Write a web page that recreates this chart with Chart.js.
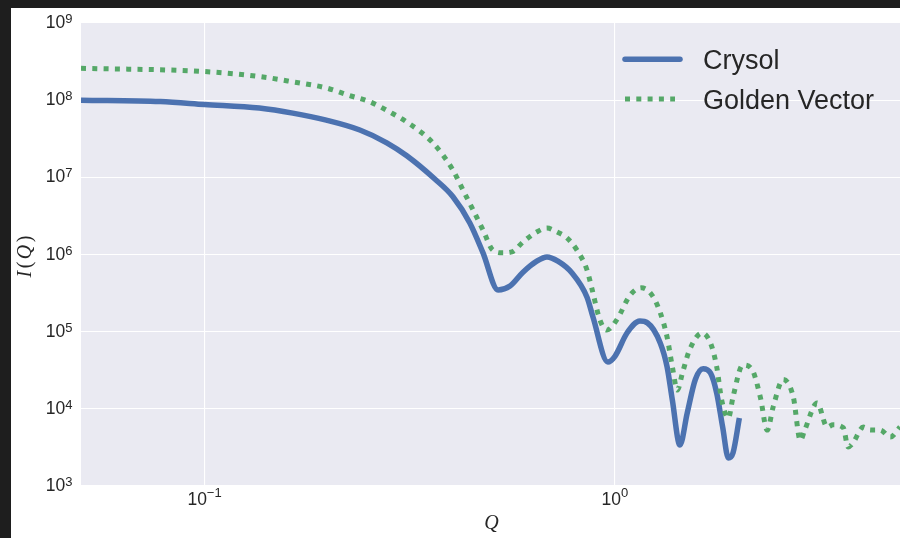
<!DOCTYPE html>
<html>
<head>
<meta charset="utf-8">
<script src="https://cdn.jsdelivr.net/npm/chart.js@4.4.1/dist/chart.umd.min.js"></script>
<style>
  html, body { margin: 0; padding: 0; width: 900px; height: 538px; overflow: hidden; background: #1e1e1e; }
  #frame { position: absolute; left: 11px; top: 8px; width: 889px; height: 530px; background: #ffffff; }
  canvas { display: block; }
</style>
</head>
<body>
<div id="frame"><canvas id="saxs" width="889" height="530"></canvas></div>
<script>
// Scattering profiles I(Q) from two calculators
const seriesNames = ['Crysol', 'Golden Vector'];

const crysolQ = [0.05, 0.078, 0.1, 0.136, 0.164, 0.198, 0.239, 0.278, 0.311, 0.364, 0.403, 0.443,
  0.477, 0.519, 0.555, 0.597, 0.645, 0.683, 0.726, 0.785, 0.855, 0.884, 0.961, 1.0, 1.07, 1.15,
  1.20, 1.29, 1.34, 1.38, 1.44, 1.50, 1.57, 1.64, 1.71, 1.77, 1.83, 1.89, 1.94, 2.01];
const crysolI = [1.0e8, 9.6e7, 8.8e7, 7.9e7, 6.8e7, 5.5e7, 4.1e7, 2.8e7, 1.9e7, 9.5e6, 5.6e6, 2.56e6,
  1.05e6, 3.47e5, 3.9e5, 5.9e5, 8.2e5, 9.3e5, 8.2e5, 5.8e5, 2.8e5, 1.55e5, 4.05e4, 4.8e4, 9.6e4, 1.37e5,
  1.3e5, 7.1e4, 3.5e4, 1.3e4, 3.4e3, 8.8e3, 2.4e4, 3.3e4, 2.9e4, 1.6e4, 5.8e3, 2.3e3, 2.7e3, 7.6e3];

const goldenQ = [0.05, 0.1, 0.1375, 0.164, 0.198, 0.223, 0.253, 0.283, 0.313, 0.36, 0.403, 0.426,
  0.451, 0.477, 0.504, 0.533, 0.561, 0.597, 0.645, 0.683, 0.722, 0.764, 0.808, 0.855, 0.880, 0.919,
  0.956, 1.01, 1.09, 1.16, 1.23, 1.29, 1.34, 1.38, 1.42, 1.46, 1.52, 1.63, 1.71, 1.77, 1.82, 1.89,
  1.94, 2.05, 2.16, 2.26, 2.35, 2.43, 2.57, 2.72, 2.83, 2.90, 3.11, 3.29, 3.40, 3.60, 3.70, 3.80,
  4.03, 4.19, 4.43, 4.69, 4.95];
const goldenI = [2.59e8, 2.35e8, 2.01e8, 1.73e8, 1.44e8, 1.17e8, 9.5e7, 7.0e7, 5.1e7, 2.8e7, 1.24e7, 6.9e6,
  3.8e6, 2.08e6, 1.14e6, 1.05e6, 1.08e6, 1.45e6, 1.96e6, 2.2e6, 1.96e6, 1.64e6, 1.14e6, 6.3e5, 3.5e5, 1.42e5,
  1.05e5, 1.42e5, 3.0e5, 3.7e5, 3.0e5, 1.75e5, 8.5e4, 3.5e4, 1.75e4, 2.9e4, 5.8e4, 9.6e4, 7.1e4, 3.5e4, 1.3e4, 7.6e3,
  1.43e4, 3.7e4, 3.2e4, 1.43e4, 5.3e3, 1.06e4, 2.4e4, 1.43e4, 3.9e3, 5.3e3, 1.19e4, 5.8e3, 6.2e3, 5.7e3, 3.2e3, 3.6e3,
  5.8e3, 5.3e3, 5.3e3, 4.3e3, 5.8e3];

// Axis ranges and decade ticks (exponents of ten)
const qRange = [0.05, 4.95];
const iRange = [1e3, 1e9];
const xTickExps = [-1, 0];
const yTickExps = [3, 4, 5, 6, 7, 8, 9];
const xTitle = 'Q';
const yTitleParts = [['I', true], ['(', false], ['Q', true], [')', false]];

const INK = '#262626';
const SANS = '"Liberation Sans", Arial, sans-serif';
const SERIF = '"Liberation Serif", "DejaVu Serif", serif';
const BLUE = '#4C72B0';
const GREEN = '#55A868';
const DOTS = [5, 6.3];

function supText(e) {
  return String(e).replace('-', '\u2212');
}

// "10" with a raised exponent; anchor is 'right' (y axis) or 'center' (x axis)
function drawPow(ctx, x, y, exp, anchor, baseDrop, supDrop) {
  const base = '10', sup = supText(exp);
  ctx.font = '17.5px ' + SANS;
  const bw = ctx.measureText(base).width;
  ctx.font = '13px ' + SANS;
  const sw = ctx.measureText(sup).width;
  const start = anchor === 'right' ? x - bw - sw : x - (bw + sw) / 2;
  ctx.textAlign = 'left';
  ctx.textBaseline = 'alphabetic';
  ctx.font = '17.5px ' + SANS;
  ctx.fillText(base, start, y + baseDrop);
  ctx.font = '13px ' + SANS;
  ctx.fillText(sup, start + bw, y + supDrop);
}

const decor = {
  id: 'decor',
  beforeDraw(chart) {
    const { ctx, chartArea: a } = chart;
    ctx.save();
    ctx.fillStyle = '#ffffff';
    ctx.fillRect(0, 0, chart.width, chart.height);
    ctx.fillStyle = '#EAEAF2';
    ctx.fillRect(a.left, a.top, a.right - a.left, a.bottom - a.top);
    ctx.restore();
  },
  afterDraw(chart) {
    const { ctx, chartArea: a } = chart;
    const xs = chart.scales.x, ys = chart.scales.y;
    ctx.save();
    ctx.fillStyle = INK;

    // tick labels
    yTickExps.forEach(e => drawPow(ctx, a.left - 8.5, ys.getPixelForValue(Math.pow(10, e)), e, 'right', 5, 0));
    xTickExps.forEach(e => drawPow(ctx, xs.getPixelForValue(Math.pow(10, e)), a.bottom, e, 'center', 19, 11));

    // axis titles
    ctx.font = 'italic 20px ' + SERIF;
    ctx.textAlign = 'center';
    ctx.textBaseline = 'alphabetic';
    ctx.fillText(xTitle, (a.left + a.right) / 2 + 1, a.bottom + 43);

    ctx.save();
    ctx.translate(19.5, (a.top + a.bottom) / 2 + 2);
    ctx.rotate(-Math.PI / 2);
    const gap = 2.5;
    const widths = yTitleParts.map(([t, it]) => {
      ctx.font = (it ? 'italic ' : '') + '20px ' + SERIF;
      return ctx.measureText(t).width;
    });
    const total = widths.reduce((s, w) => s + w, 0) + gap * (widths.length - 1);
    let px = -total / 2;
    ctx.textAlign = 'left';
    yTitleParts.forEach(([t, it], i) => {
      ctx.font = (it ? 'italic ' : '') + '20px ' + SERIF;
      ctx.fillText(t, px, 0);
      px += widths[i] + gap;
    });
    ctx.restore();

    // legend
    const lx0 = 614, lx1 = 669, tx = 692;
    ctx.lineWidth = 5.5;
    ctx.strokeStyle = BLUE;
    ctx.lineCap = 'round';
    ctx.beginPath(); ctx.moveTo(lx0, 51.3); ctx.lineTo(lx1, 51.3); ctx.stroke();
    ctx.lineWidth = 5;
    ctx.strokeStyle = GREEN;
    ctx.lineCap = 'butt';
    ctx.setLineDash(DOTS);
    ctx.beginPath(); ctx.moveTo(lx0, 91); ctx.lineTo(lx0 + 50, 91); ctx.stroke();
    ctx.setLineDash([]);
    ctx.font = '27px ' + SANS;
    ctx.textAlign = 'left';
    ctx.textBaseline = 'alphabetic';
    ctx.fillStyle = INK;
    ctx.fillText(seriesNames[0], tx, 61);
    ctx.fillText(seriesNames[1], tx, 101);
    ctx.restore();
  }
};

const gridOpts = { color: '#ffffff', lineWidth: 1.1, drawTicks: false };

new Chart(document.getElementById('saxs'), {
  type: 'line',
  data: {
    datasets: [
      {
        label: seriesNames[0],
        data: crysolQ.map((q, i) => ({ x: q, y: crysolI[i] })),
        borderColor: BLUE,
        borderWidth: 5.5,
        borderJoinStyle: 'round',
        borderCapStyle: 'butt',
        cubicInterpolationMode: 'monotone',
        pointRadius: 0,
        fill: false,
        order: 1
      },
      {
        label: seriesNames[1],
        data: goldenQ.map((q, i) => ({ x: q, y: goldenI[i] })),
        borderColor: GREEN,
        borderWidth: 5,
        borderDash: DOTS,
        borderCapStyle: 'butt',
        cubicInterpolationMode: 'monotone',
        pointRadius: 0,
        fill: false,
        order: 0
      }
    ]
  },
  options: {
    responsive: false,
    animation: false,
    devicePixelRatio: 1,
    layout: { padding: { top: 15, left: 0, right: 0, bottom: 0 } },
    plugins: { legend: { display: false }, tooltip: { enabled: false } },
    scales: {
      x: {
        type: 'logarithmic',
        min: qRange[0],
        max: qRange[1],
        afterBuildTicks: s => { s.ticks = xTickExps.map(e => ({ value: Math.pow(10, e) })); },
        afterFit: s => { s.height = 52; },
        ticks: { display: false },
        grid: gridOpts,
        border: { display: false }
      },
      y: {
        type: 'logarithmic',
        min: iRange[0],
        max: iRange[1],
        afterBuildTicks: s => { s.ticks = yTickExps.map(e => ({ value: Math.pow(10, e) })); },
        afterFit: s => { s.width = 70; },
        ticks: { display: false },
        grid: gridOpts,
        border: { display: false }
      }
    }
  },
  plugins: [decor]
});
</script>
</body>
</html>
